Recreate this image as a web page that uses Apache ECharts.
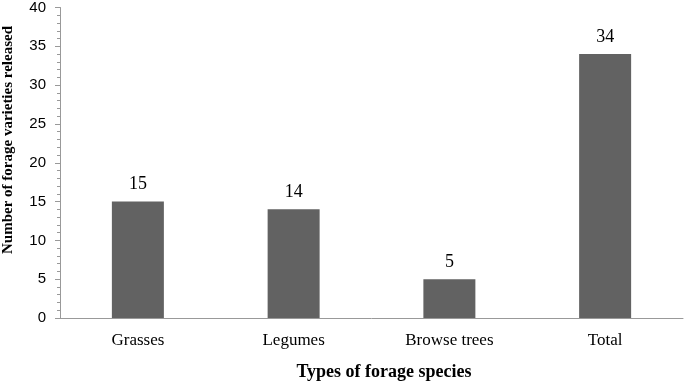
<!DOCTYPE html>
<html>
<head>
<meta charset="utf-8">
<script src="https://cdn.jsdelivr.net/npm/echarts@6/dist/echarts.min.js"></script>
<style>
  html, body { margin: 0; padding: 0; background: #fff; }
  #chart { width: 685px; height: 382px; }
</style>
</head>
<body>
<div id="chart"></div>
<script>
const categories = ["Grasses", "Legumes", "Browse trees", "Total"];
const varieties = [15, 14, 5, 34];
const yTicks = { min: 0, max: 40, step: 5 };

const serif = "Liberation Serif";
const sans = "Liberation Sans";

const chart = echarts.init(document.getElementById("chart"));
chart.setOption({
  animation: false,
  grid: { left: 60, right: 2, top: 6, bottom: 64 },
  title: {
    text: "Types of forage species",
    left: 379,
    top: 358,
    textAlign: "center",
    textStyle: { fontFamily: serif, fontSize: 18, fontWeight: "bold", color: "#000" }
  },
  graphic: [{
    type: "text",
    x: 8,
    y: 140,
    rotation: Math.PI / 2,
    style: {
      text: "Number of forage varieties released",
      fontFamily: serif,
      fontSize: 15,
      fontWeight: "bold",
      fill: "#000",
      align: "center",
      verticalAlign: "middle"
    }
  }],
  xAxis: {
    type: "category",
    data: categories,
    axisLine: { lineStyle: { color: "#999" } },
    axisTick: { alignWithLabel: true, length: 4, lineStyle: { color: "#999" } },
    axisLabel: { fontFamily: serif, fontSize: 17, color: "#000", margin: 14 }
  },
  yAxis: {
    type: "value",
    min: yTicks.min,
    max: yTicks.max,
    interval: yTicks.step,
    axisLine: { show: true, lineStyle: { color: "#999" } },
    axisTick: { show: true, length: 5, lineStyle: { color: "#999" } },
    minorTick: { show: true, splitNumber: 5, length: 3, lineStyle: { color: "#999" } },
    splitLine: { show: false },
    axisLabel: { fontFamily: sans, fontSize: 15, color: "#000", margin: 14 }
  },
  series: [{
    type: "bar",
    data: varieties,
    barWidth: 52,
    itemStyle: { color: "#626262" },
    label: {
      show: true,
      position: "top",
      distance: 8,
      fontFamily: serif,
      fontSize: 18,
      color: "#000"
    }
  }]
});
</script>
</body>
</html>
